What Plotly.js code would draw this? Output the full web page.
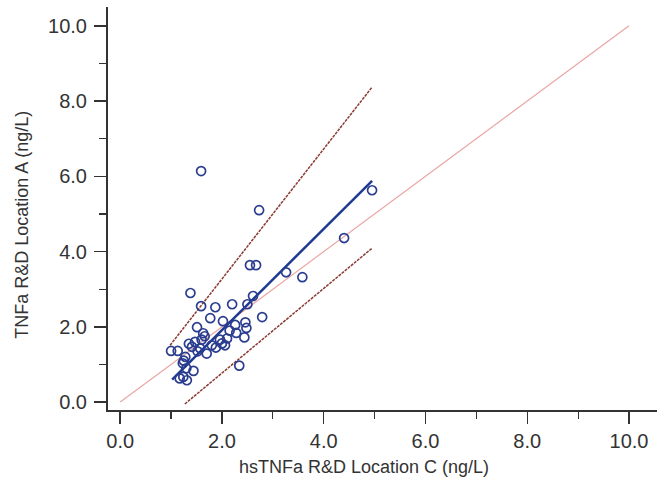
<!DOCTYPE html>
<html>
<head>
<meta charset="utf-8">
<script src="https://cdn.plot.ly/plotly-3.0.1.min.js"></script>
<style>html,body{margin:0;padding:0;background:#fff;}#chart{width:662px;height:491px;}</style>
</head>
<body>
<div id="chart"></div>
<script>
// Measured points: hsTNFa Location C (x) vs TNFa Location A (y), ng/L
const pointsX = [1.59, 2.73, 4.95, 4.40, 3.26, 3.58, 2.55, 2.67, 1.38, 2.61,
                 1.59, 1.87, 2.20, 2.50, 2.79, 1.77, 2.02, 1.51, 1.63, 2.26,
                 2.46, 2.48, 2.34, 1.00, 1.13, 1.28, 1.23, 1.30, 1.44, 1.17,
                 1.24, 1.31, 1.41, 1.47, 1.60, 1.57, 1.70, 1.80, 1.96, 2.00,
                 2.06, 2.10, 2.28, 2.44, 1.35, 1.52, 1.88, 1.66, 2.15, 1.25];
const pointsY = [6.14, 5.10, 5.63, 4.36, 3.45, 3.32, 3.64, 3.64, 2.90, 2.82,
                 2.55, 2.52, 2.60, 2.60, 2.26, 2.23, 2.15, 1.99, 1.83, 2.05,
                 2.12, 1.97, 0.97, 1.36, 1.36, 1.20, 1.03, 0.90, 0.83, 0.63,
                 0.67, 0.58, 1.47, 1.60, 1.66, 1.43, 1.29, 1.51, 1.66, 1.56,
                 1.51, 1.69, 1.84, 1.72, 1.55, 1.35, 1.45, 1.75, 1.90, 1.10];

// Reference / fitted lines (end points)
const identityX = [0, 10];
const identityY = [0, 10];
const fitX = [1.02, 4.95];
const fitY = [0.60, 5.88];
const upperX = [0.98, 4.95];
const upperY = [1.51, 8.37];
const lowerX = [1.27, 4.95];
const lowerY = [-0.05, 4.09];

const tickVals = [0, 2, 4, 6, 8, 10];
const tickText = ['0.0', '2.0', '4.0', '6.0', '8.0', '10.0'];
const xTitle = 'hsTNFa R&D Location C (ng/L)';
const yTitle = 'TNFa R&D Location A (ng/L)';

const traces = [
  {x: identityX, y: identityY, mode: 'lines', line: {color: '#e9a6a3', width: 1.2}, hoverinfo: 'skip'},
  {x: upperX, y: upperY, mode: 'lines', line: {color: '#8a3b33', width: 1.5, dash: '3px,1px'}, hoverinfo: 'skip'},
  {x: lowerX, y: lowerY, mode: 'lines', line: {color: '#8a3b33', width: 1.5, dash: '3px,1px'}, hoverinfo: 'skip'},
  {x: fitX, y: fitY, mode: 'lines', line: {color: '#1f3a93', width: 2.5}, hoverinfo: 'skip'},
  {x: pointsX, y: pointsY, mode: 'markers',
   marker: {symbol: 'circle-open', size: 9, color: '#2b3d8f', line: {width: 1.7, color: '#2b3d8f'}}}
];

const axisCommon = {
  showgrid: false, zeroline: false, showline: true, linecolor: '#333', linewidth: 2,
  ticks: 'outside', ticklen: 12, tickwidth: 1.5, tickcolor: '#333',
  tickvals: tickVals, ticktext: tickText,
  tickfont: {family: 'Liberation Sans, Arial, sans-serif', size: 20, color: '#333'},
  minor: {tickvals: [1, 3, 5, 7, 9], ticks: 'outside', ticklen: 7, tickwidth: 1.2, tickcolor: '#333'}
};

const layout = {
  width: 662, height: 491,
  margin: {l: 108, r: 5, t: 7, b: 81},
  paper_bgcolor: '#fff', plot_bgcolor: '#fff',
  showlegend: false,
  font: {family: 'Liberation Sans, Arial, sans-serif', color: '#333'},
  xaxis: Object.assign({}, axisCommon, {range: [-0.24, 10.55]}),
  yaxis: Object.assign({}, axisCommon, {range: [-0.21, 10.5], ticklabelstandoff: 3}),
  annotations: [
    {text: xTitle, xref: 'paper', yref: 'paper', x: 0.466, y: -0.141,
     xanchor: 'center', yanchor: 'middle', showarrow: false,
     font: {size: 18, color: '#333', family: 'Liberation Sans, Arial, sans-serif'}},
    {text: yTitle, xref: 'paper', yref: 'paper', x: -0.157, y: 0.459, textangle: -90,
     xanchor: 'center', yanchor: 'middle', showarrow: false,
     font: {size: 18, color: '#333', family: 'Liberation Sans, Arial, sans-serif'}}
  ]
};

Plotly.newPlot('chart', traces, layout, {displayModeBar: false, staticPlot: true});
</script>
</body>
</html>
